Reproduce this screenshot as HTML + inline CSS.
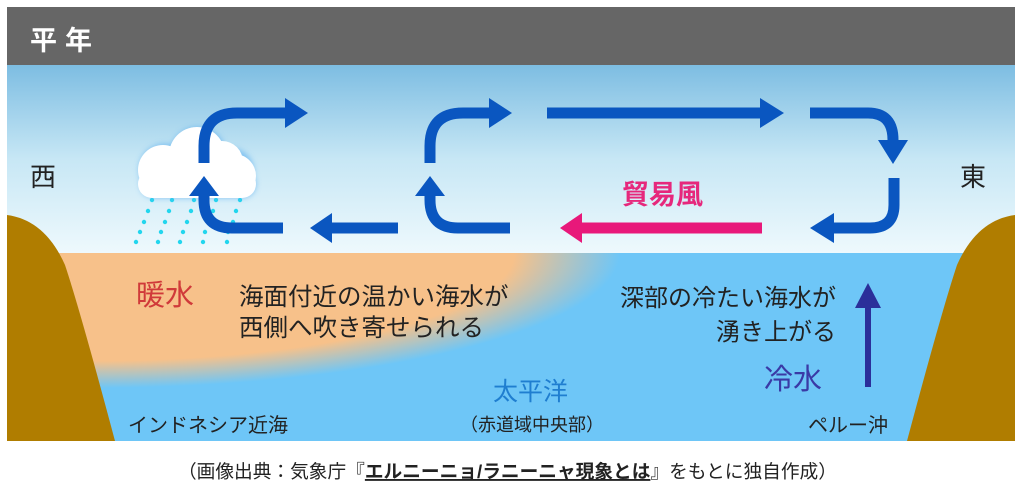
<!DOCTYPE html>
<html><head><meta charset="utf-8"><style>
body{margin:0;width:1024px;height:495px;background:#fff;overflow:hidden;font-family:"Liberation Sans","Noto Sans CJK JP",sans-serif;}
svg{position:absolute;left:0;top:0}
</style></head><body>
<svg width="1024" height="495" viewBox="0 0 1024 495" font-family="Liberation Sans, Noto Sans CJK JP, sans-serif">
<defs>
<linearGradient id="sky" x1="0" y1="0" x2="0" y2="1">
<stop offset="0" stop-color="#7dbde2"/><stop offset="0.5" stop-color="#c7e7f5"/><stop offset="1" stop-color="#eef9fd"/></linearGradient>
<radialGradient id="warm" cx="90" cy="253" r="1" gradientUnits="userSpaceOnUse" gradientTransform="translate(90 253) scale(530 135) translate(-90 -253)">
<stop offset="0" stop-color="#f7c18a"/><stop offset="0.8" stop-color="#f7c18a"/><stop offset="1" stop-color="#f7c18a" stop-opacity="0"/></radialGradient>
<filter id="bl"><feGaussianBlur stdDeviation="3"/></filter>
</defs>
<rect x="7" y="7" width="1008" height="58" fill="#666"/>
<text x="30" y="50" font-size="27" font-weight="bold" fill="#fff" letter-spacing="8">平年</text>
<rect x="7" y="65" width="1008" height="188" fill="url(#sky)"/>
<rect x="7" y="253" width="1008" height="188" fill="#6ec6f7"/>
<rect x="7" y="253" width="720" height="188" fill="url(#warm)"/>
<path d="M7 215 Q45 220 65 265 Q80 310 115 441 L7 441Z" fill="#b07d00"/>
<path d="M1015 215 Q977 220 957 265 Q942 310 907 441 L1015 441Z" fill="#b07d00"/>
<text x="30" y="186" font-size="26" fill="#222">西</text>
<text x="960" y="186" font-size="26" fill="#222">東</text>
<g fill="#22d6ee">
<circle cx="152" cy="200" r="2.2"/><circle cx="172" cy="200" r="2.2"/><circle cx="194" cy="200" r="2.2"/><circle cx="216" cy="200" r="2.2"/><circle cx="240" cy="200" r="2.2"/>
<circle cx="148" cy="211" r="2.2"/><circle cx="169" cy="211" r="2.2"/><circle cx="191" cy="211" r="2.2"/><circle cx="213" cy="211" r="2.2"/><circle cx="236" cy="211" r="2.2"/>
<circle cx="144" cy="222" r="2.2"/><circle cx="165" cy="222" r="2.2"/><circle cx="187" cy="222" r="2.2"/><circle cx="209" cy="222" r="2.2"/><circle cx="233" cy="222" r="2.2"/>
<circle cx="140" cy="232" r="2.2"/><circle cx="161" cy="232" r="2.2"/><circle cx="183" cy="232" r="2.2"/><circle cx="205" cy="232" r="2.2"/><circle cx="228" cy="232" r="2.2"/>
<circle cx="136" cy="242" r="2.2"/><circle cx="158" cy="242" r="2.2"/><circle cx="180" cy="242" r="2.2"/><circle cx="203" cy="242" r="2.2"/><circle cx="227" cy="242" r="2.2"/>
</g>
<g filter="url(#bl)" fill="#5fb0f0" opacity="0.7"><circle cx="165" cy="170" r="26"/><circle cx="198" cy="155" r="28"/><circle cx="230" cy="172" r="24"/><rect x="140" y="170" width="116" height="28" rx="14"/></g>
<g fill="#fff"><circle cx="163" cy="170" r="25"/><circle cx="197" cy="155" r="28"/><circle cx="222" cy="162" r="21"/><circle cx="234" cy="176" r="22"/><rect x="138" y="170" width="118" height="28" rx="14"/></g>
<g fill="none" stroke="#0a56c0" stroke-width="11">
<path d="M204 163 V146 Q204 113 237 113 H288"/>
<path d="M283 228 H232 Q204 228 204 200 V194"/>
<path d="M398 228 H330"/>
<path d="M430 163 V146 Q430 113 463 113 H492"/>
<path d="M510 228 H458 Q430 228 430 200 V194"/>
<path d="M547 113 H762"/>
<path d="M810 113 H868 Q893 113 893 140 V143"/>
<path d="M894 178 V205 Q894 228 870 228 H832"/>
</g>
<g fill="#0a56c0">
<path d="M285 98 L308 113 L285 128Z"/><path d="M189 196 L204 176 L219 196Z"/>
<path d="M332 213 L310 228 L332 243Z"/>
<path d="M489 98 L512 113 L489 128Z"/><path d="M415 196 L430 176 L445 196Z"/>
<path d="M760 98 L784 113 L760 128Z"/>
<path d="M878 140 L893 164 L908 140Z"/>
<path d="M834 213 L810 228 L834 243Z"/>
</g>
<path d="M762 228 H580" stroke="#e8187a" stroke-width="11"/>
<path d="M582 213 L560 228 L582 243Z" fill="#e8187a"/>
<text x="622" y="204" font-size="27" font-weight="bold" fill="#e6287c">貿易風</text>
<path d="M868 387 V305" stroke="#2b2f9a" stroke-width="6"/>
<path d="M855 308 L868 283 L881 308Z" fill="#2b2f9a"/>
<text x="136" y="305" font-size="29" fill="#d03a3a">暖水</text>
<text x="239" y="305" font-size="24.5" fill="#222">海面付近の温かい海水が</text>
<text x="239" y="336" font-size="24.5" fill="#222">西側へ吹き寄せられる</text>
<text x="836" y="306" font-size="24" fill="#222" text-anchor="end">深部の冷たい海水が</text>
<text x="836" y="340" font-size="24" fill="#222" text-anchor="end">湧き上がる</text>
<text x="764" y="389" font-size="29" fill="#3a3aa6">冷水</text>
<text x="493" y="400" font-size="25" fill="#1f7ed0">太平洋</text>
<text x="460" y="431" font-size="18" fill="#222">（赤道域中央部）</text>
<text x="128" y="432" font-size="20" fill="#222">インドネシア近海</text>
<text x="808" y="432" font-size="20" fill="#222">ペルー沖</text>
<text x="178" y="478" font-size="18.7" fill="#222">（画像出典：気象庁『<tspan font-weight="bold" text-decoration="underline">エルニーニョ/ラニーニャ現象とは</tspan>』をもとに独自作成）</text>
</svg>
</body></html>
